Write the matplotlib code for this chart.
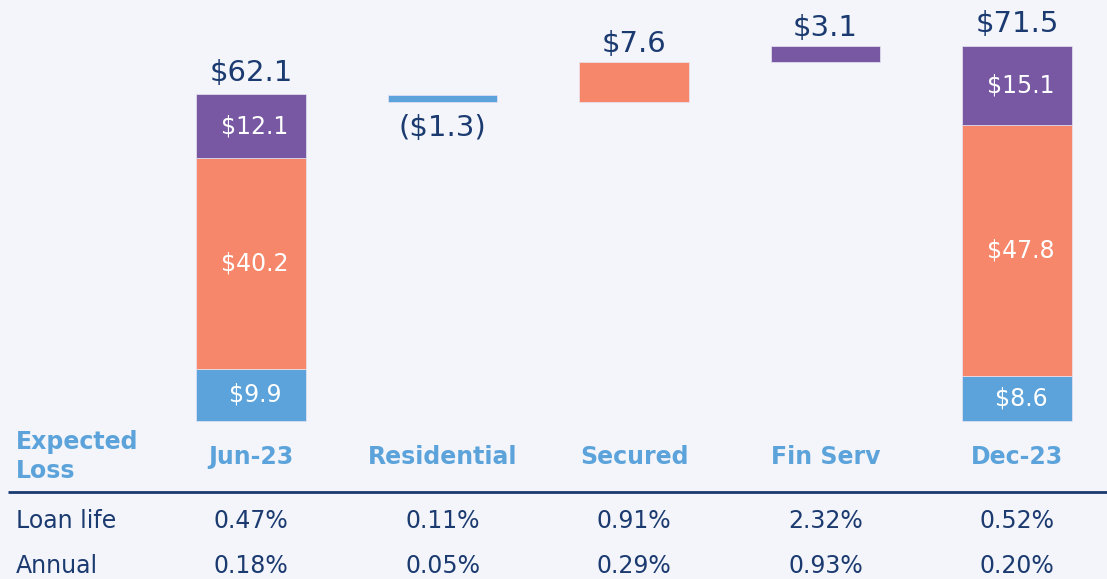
import numpy as np
import matplotlib.pyplot as plt
import matplotlib.transforms as mtransforms

# data
categories = ['Jun-23', 'Residential', 'Secured', 'Fin Serv', 'Dec-23']
jun_parts = [9.9, 40.2, 12.1]      # residential, secured, fin serv
dec_parts = [8.6, 47.8, 15.1]
changes = [-1.3, 7.6, 3.1]         # residential, secured, fin serv
jun_total = 62.1
dec_total = 71.5
loan_life = ['0.47%', '0.11%', '0.91%', '2.32%', '0.52%']
annual = ['0.18%', '0.05%', '0.29%', '0.93%', '0.20%']

BLUE = '#5BA3DA'
ORANGE = '#F7876A'
PURPLE = '#7857A3'
NAVY = '#1B3A70'
BG = '#F3F5FA'
seg_colors = [BLUE, ORANGE, PURPLE]

plt.rcParams['font.family'] = ['DejaVu Sans']

fig = plt.figure(figsize=(11.07, 5.79), dpi=100, facecolor=BG)
ax = fig.add_axes([0, 0, 1, 1])
ax.set_facecolor(BG)
ax.set_xlim(-1.311, 4.470)
ax.set_ylim(-30.1, 80.19)
ax.axis('off')

x = np.arange(len(categories))
w = 0.574

def money(v):
    return '(${:.1f})'.format(-v) if v < 0 else '${:.1f}'.format(v)

# stacked end bars
for xi, parts, total in [(x[0], jun_parts, jun_total), (x[4], dec_parts, dec_total)]:
    bottom = 0
    for val, c in zip(parts, seg_colors):
        ax.bar(xi, val, w, bottom=bottom, color=c, edgecolor='#E8E6F2', linewidth=0.5)
        ax.text(xi + 0.02, bottom + val / 2, money(val), ha='center', va='center',
                color='white', fontsize=17)
        bottom += val
    ax.annotate(money(total), (xi, sum(parts)), xytext=(0, 10), textcoords='offset points',
                ha='center', va='baseline', color=NAVY, fontsize=21)

# floating change bars
level = jun_total
for i, (chg, c) in enumerate(zip(changes, seg_colors)):
    xi = x[i + 1]
    ax.bar(xi, chg, w, bottom=level, color=c, edgecolor='#E8E6F2', linewidth=0.5)
    if chg < 0:
        ax.annotate(money(chg), (xi, level + chg), xytext=(0, -9), textcoords='offset points',
                    ha='center', va='top', color=NAVY, fontsize=21)
    else:
        ax.annotate(money(chg), (xi, level + chg), xytext=(0, 7), textcoords='offset points',
                    ha='center', va='baseline', color=NAVY, fontsize=21)
    level += chg

# table below
trans = mtransforms.blended_transform_factory(ax.transData, ax.transAxes)
ax.text(0.0145, 0.2116, 'Expected\nLoss', transform=ax.transAxes, ha='left', va='center',
        color=BLUE, fontsize=17, fontweight='bold', linespacing=1.3)
for xi, cat, ll, an in zip(x, categories, loan_life, annual):
    ax.text(xi, 0.2107, cat, transform=trans, ha='center', va='center',
            color=BLUE, fontsize=17, fontweight='bold')
    ax.text(xi, 0.100, ll, transform=trans, ha='center', va='center', color=NAVY, fontsize=17)
    ax.text(xi, 0.0225, an, transform=trans, ha='center', va='center', color=NAVY, fontsize=17)
ax.text(0.0145, 0.100, 'Loan life', transform=ax.transAxes, ha='left', va='center',
        color=NAVY, fontsize=17)
ax.text(0.0145, 0.0225, 'Annual', transform=ax.transAxes, ha='left', va='center',
        color=NAVY, fontsize=17)
ax.plot([0.007, 1.0], [0.1503, 0.1503], transform=ax.transAxes, color=NAVY, lw=2,
        solid_capstyle='butt', clip_on=False)

fig.savefig('out.png', dpi=100, facecolor=BG)
